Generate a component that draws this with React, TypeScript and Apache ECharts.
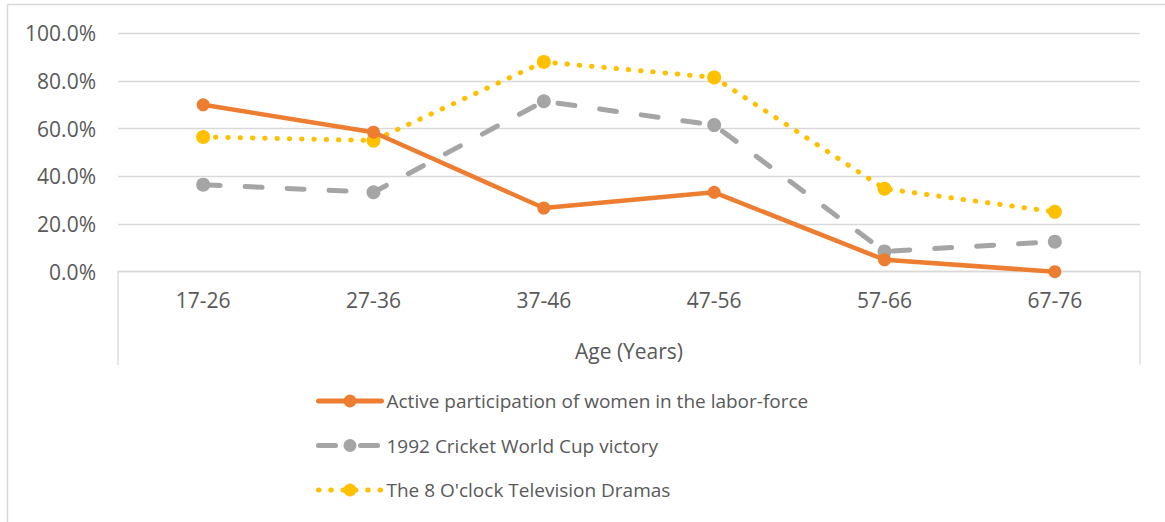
import React, { useEffect, useRef } from "react";
import * as echarts from "echarts";

const categories = ["17-26", "27-36", "37-46", "47-56", "57-66", "67-76"];
const laborForce = [70.0, 58.5, 26.7, 33.3, 5.0, 0.0];
const cricketWorldCup = [36.5, 33.3, 71.5, 61.5, 8.5, 12.6];
const tvDramas = [56.5, 55.0, 88.0, 81.5, 34.8, 25.1];
const seriesNames = [
  "Active participation of women in the labor-force",
  "1992 Cricket World Cup victory",
  "The 8 O'clock Television Dramas",
];
const xAxisTitle = "Age (Years)";

const FONT = "'Open Sans', sans-serif";
const TEXT = "#595959";
const GRID = "#d9d9d9";

export default function App() {
  const ref = useRef<HTMLDivElement>(null);
  useEffect(() => {
    if (!ref.current) return;
    const chart = echarts.init(ref.current, null, { renderer: "svg" });
    chart.setOption({
      animation: false,
      backgroundColor: "#ffffff",
      textStyle: { fontFamily: FONT },
      grid: { left: 118, right: 25, top: 33.3, bottom: 522 - 271.7, containLabel: false },
      xAxis: {
        type: "category",
        data: categories,
        boundaryGap: true,
        axisLine: { show: true, lineStyle: { color: GRID, width: 1.3 } },
        axisTick: { show: false },
        axisLabel: { color: TEXT, fontSize: 21, fontFamily: FONT, margin: 18 },
        name: xAxisTitle,
        nameLocation: "middle",
        nameGap: 69,
        nameTextStyle: { color: TEXT, fontSize: 21, fontFamily: FONT },
      },
      yAxis: {
        type: "value",
        min: 0,
        max: 100,
        interval: 20,
        axisLine: { show: false },
        axisTick: { show: false },
        splitLine: { lineStyle: { color: GRID, width: 1.3 } },
        axisLabel: {
          color: TEXT,
          fontSize: 21,
          fontFamily: FONT,
          margin: 22,
          formatter: (v: number) => v.toFixed(1) + "%",
        },
      },
      legend: {
        orient: "vertical",
        left: 311,
        top: 384,
        itemWidth: 63,
        itemHeight: 16,
        itemGap: 20.5,
        lineStyle: { width: 5 },
        textStyle: { color: TEXT, fontSize: 19, fontFamily: FONT, lineHeight: 24 },
        data: seriesNames,
      },
      series: [
        {
          name: seriesNames[0],
          type: "line",
          data: laborForce,
          symbol: "circle",
          symbolSize: 13,
          itemStyle: { color: "#ED7D31" },
          lineStyle: { color: "#ED7D31", width: 4.5, cap: "round" },
          z: 3,
        },
        {
          name: seriesNames[1],
          type: "line",
          data: cricketWorldCup,
          symbol: "circle",
          symbolSize: 14,
          itemStyle: { color: "#A5A5A5" },
          lineStyle: { color: "#A5A5A5", width: 5, type: [17, 25], cap: "round" },
          z: 2,
        },
        {
          name: seriesNames[2],
          type: "line",
          data: tvDramas,
          symbol: "circle",
          symbolSize: 14,
          itemStyle: { color: "#FFC000" },
          lineStyle: { color: "#FFC000", width: 5, type: [0.5, 11.8], cap: "round" },
          z: 1,
        },
      ],
      graphic: [
        {
          type: "rect",
          shape: { x: 7.5, y: 4.5, width: 1300, height: 700 },
          style: { fill: "none", stroke: GRID, lineWidth: 1.5 },
          silent: true,
        },
        {
          type: "line",
          shape: { x1: 118, y1: 271.7, x2: 118, y2: 365 },
          style: { stroke: GRID, lineWidth: 1.3 },
          silent: true,
        },
        {
          type: "line",
          shape: { x1: 1140, y1: 271.7, x2: 1140, y2: 365 },
          style: { stroke: GRID, lineWidth: 1.3 },
          silent: true,
        },
      ],
    });
    return () => chart.dispose();
  }, []);
  return (
    <div
      ref={ref}
      style={{ position: "fixed", left: 0, top: 0, width: 1165, height: 522, background: "#fff" }}
    />
  );
}
